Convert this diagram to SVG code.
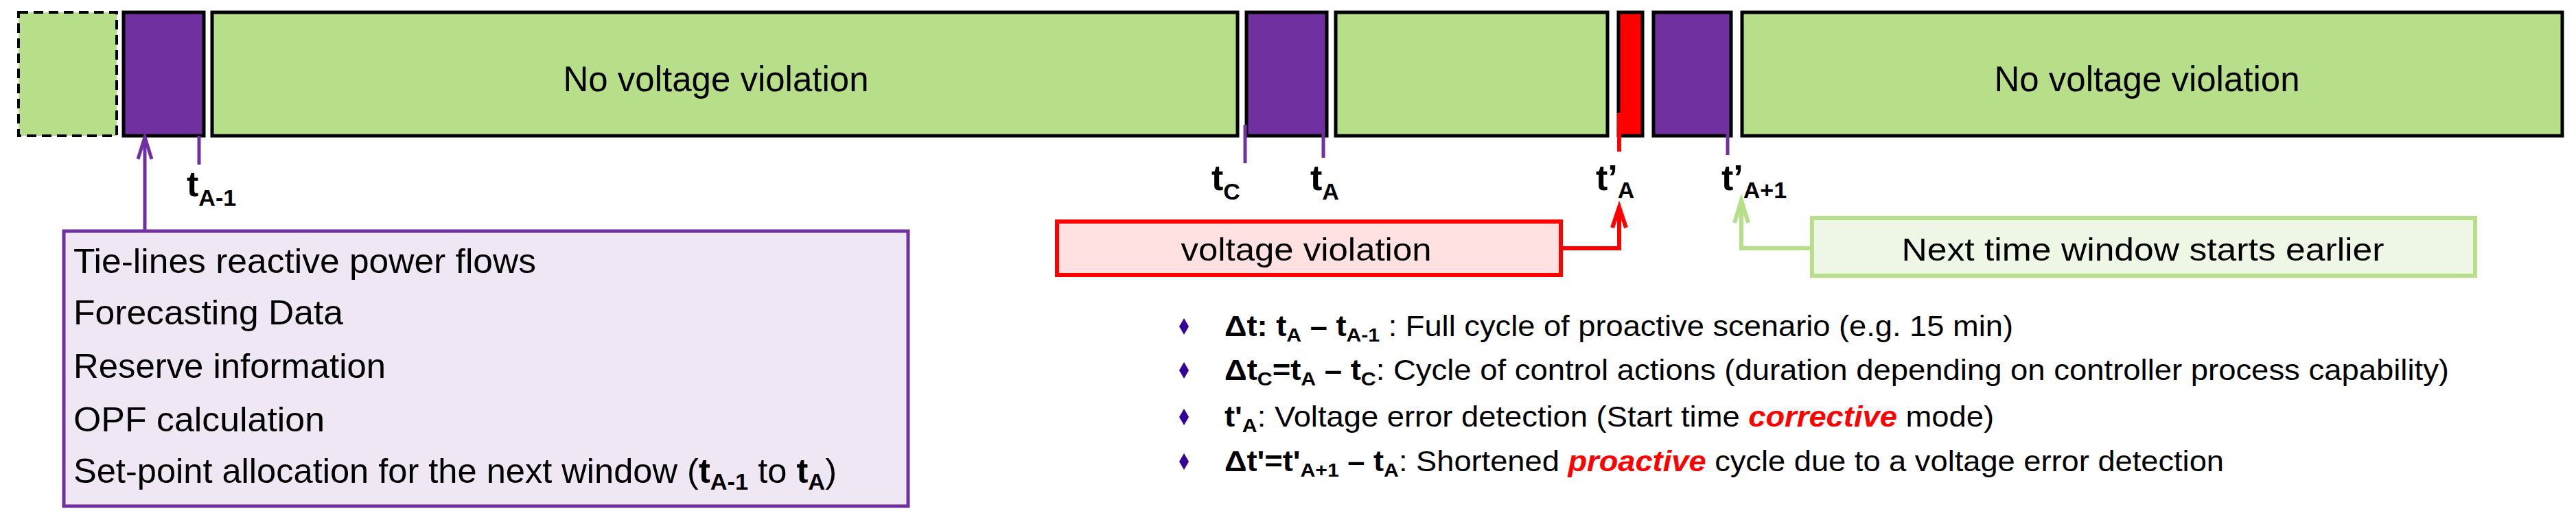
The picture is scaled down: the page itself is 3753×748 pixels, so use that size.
<svg xmlns="http://www.w3.org/2000/svg" width="3753" height="748" viewBox="0 0 3753 748">
<style>
text{font-family:"Liberation Sans",Arial,sans-serif;fill:#000}
.g{fill:#B7DE88;stroke:#000;stroke-width:5}
.p{fill:#7030A0;stroke:#000;stroke-width:5}
.bar{font-size:52px}
.lbl{font-size:52px;font-weight:bold}
.sub{font-size:34px}
.lst{font-size:50px}
.bul{font-size:42px}
.bs{font-size:28px}
.em{fill:#FF0000;font-style:italic;font-weight:bold}
</style>
<defs>
<marker id="ap" markerWidth="8" markerHeight="10" refX="4" refY="1" orient="auto-start-reverse" markerUnits="userSpaceOnUse" viewBox="0 0 8 10"><path d="M4 0 L8 10 L4 7 L0 10Z" fill="#7030A0"/></marker>
</defs>
<g id="bars">
<rect x="27" y="18" width="143" height="180" fill="#B7DE88" stroke="#000" stroke-width="4" stroke-dasharray="14 8"/>
<rect class="p" x="180" y="18" width="117" height="180"/>
<rect class="g" x="309" y="18" width="1494" height="180"/>
<text class="bar" x="1043" y="133" text-anchor="middle" textLength="445" lengthAdjust="spacingAndGlyphs">No voltage violation</text>
<rect class="p" x="1816" y="18" width="117" height="180"/>
<rect class="g" x="1946" y="18" width="396" height="180"/>
<rect x="2358" y="18" width="35" height="180" fill="#FF0000" stroke="#000" stroke-width="5"/>
<rect class="p" x="2409" y="18" width="113" height="180"/>
<rect class="g" x="2538" y="18" width="1195" height="180"/>
<text class="bar" x="3128" y="133" text-anchor="middle" textLength="445" lengthAdjust="spacingAndGlyphs">No voltage violation</text>
</g>
<g id="ticks" stroke-width="5">
<line x1="290" y1="198" x2="290" y2="240" stroke="#7030A0"/>
<line x1="1814" y1="182" x2="1814" y2="238" stroke="#7030A0"/>
<line x1="1928" y1="195" x2="1928" y2="230" stroke="#7030A0"/>
<line x1="2359" y1="165" x2="2359" y2="221" stroke="#FF0000" stroke-width="6"/>
<line x1="2517" y1="195" x2="2517" y2="226" stroke="#7030A0"/>
</g>
<g id="labels">
<text class="lbl" x="272" y="286">t<tspan class="sub" dy="14">A-1</tspan></text>
<text class="lbl" x="1765" y="277">t<tspan class="sub" dy="14">C</tspan></text>
<text class="lbl" x="1909" y="277">t<tspan class="sub" dy="14">A</tspan></text>
<text class="lbl" x="2325" y="277">t’<tspan class="sub" dy="12">A</tspan></text>
<text class="lbl" x="2508" y="277">t’<tspan class="sub" dy="12">A+1</tspan></text>
</g>
<g id="connectors" fill="none">
<line x1="211" y1="337" x2="211" y2="204" stroke="#7030A0" stroke-width="5"/>
<path d="M201 232 L211 200 L221 232" stroke="#7030A0" stroke-width="5"/>
<polyline points="2274,362 2359,362 2359,306" stroke="#FF0000" stroke-width="6"/>
<path d="M2349 332 L2359 302 L2369 332" stroke="#FF0000" stroke-width="6"/>
<polyline points="2640,362 2537,362 2537,296" stroke="#B7DE88" stroke-width="6"/>
<path d="M2527 325 L2537 292 L2547 325" stroke="#B7DE88" stroke-width="6"/>
</g>
<g id="info-box">
<rect x="93" y="337" width="1230" height="401" fill="#EFE8F4" stroke="#7030A0" stroke-width="5"/>
<text class="lst" x="107" y="398" textLength="674" lengthAdjust="spacingAndGlyphs">Tie-lines reactive power flows</text>
<text class="lst" x="107" y="473" textLength="393" lengthAdjust="spacingAndGlyphs">Forecasting Data</text>
<text class="lst" x="107" y="551" textLength="455" lengthAdjust="spacingAndGlyphs">Reserve information</text>
<text class="lst" x="107" y="629" textLength="366" lengthAdjust="spacingAndGlyphs">OPF calculation</text>
<text class="lst" x="107" y="704" textLength="1112" lengthAdjust="spacingAndGlyphs">Set-point allocation for the next window (<tspan font-weight="bold">t<tspan class="sub" dy="10">A-1</tspan></tspan><tspan dy="-10"> to </tspan><tspan font-weight="bold">t<tspan class="sub" dy="10">A</tspan></tspan><tspan dy="-10">)</tspan></text>
</g>
<g id="violation-box">
<rect x="1540" y="323" width="734" height="78" fill="#FFE1E1" stroke="#FF0000" stroke-width="6"/>
<text x="1903" y="380" text-anchor="middle" font-size="46" textLength="365" lengthAdjust="spacingAndGlyphs">voltage violation</text>
</g>
<g id="next-box">
<rect x="2640" y="318" width="966" height="84" fill="#EEF6E6" stroke="#B7DE88" stroke-width="6"/>
<text x="3122" y="380" text-anchor="middle" font-size="46" textLength="703" lengthAdjust="spacingAndGlyphs">Next time window starts earlier</text>
</g>
<g id="legend">
<path d="M1725 476 l7 -12 l7 12 l-7 12z M1725 540 l7 -12 l7 12 l-7 12z M1725 608 l7 -12 l7 12 l-7 12z M1725 673 l7 -12 l7 12 l-7 12z" fill="#330099" transform="translate(-7 0)"/>
<text class="bul" x="1784" y="490" textLength="1149" lengthAdjust="spacingAndGlyphs"><tspan font-weight="bold">Δt: t<tspan class="bs" dy="8">A</tspan><tspan dy="-8"> – t</tspan><tspan class="bs" dy="8">A-1</tspan></tspan><tspan dy="-8"> : Full  cycle of proactive scenario (e.g. 15 min)</tspan></text>
<text class="bul" x="1784" y="554" textLength="1784" lengthAdjust="spacingAndGlyphs"><tspan font-weight="bold">Δt<tspan class="bs" dy="8">C</tspan><tspan dy="-8">=t</tspan><tspan class="bs" dy="8">A</tspan><tspan dy="-8"> – t</tspan><tspan class="bs" dy="8">C</tspan></tspan><tspan dy="-8">: Cycle of control  actions (duration  depending  on  controller  process capability)</tspan></text>
<text class="bul" x="1784" y="622" textLength="1121" lengthAdjust="spacingAndGlyphs"><tspan font-weight="bold">t'<tspan class="bs" dy="8">A</tspan></tspan><tspan dy="-8">: Voltage error detection  (Start time  </tspan><tspan class="em">corrective</tspan><tspan> mode)</tspan></text>
<text class="bul" x="1784" y="687" textLength="1456" lengthAdjust="spacingAndGlyphs"><tspan font-weight="bold">Δt'=t'<tspan class="bs" dy="8">A+1</tspan><tspan dy="-8"> – t</tspan><tspan class="bs" dy="8">A</tspan></tspan><tspan dy="-8">: Shortened  </tspan><tspan class="em">proactive</tspan><tspan> cycle due to a voltage  error detection</tspan></text>
</g>
</svg>
